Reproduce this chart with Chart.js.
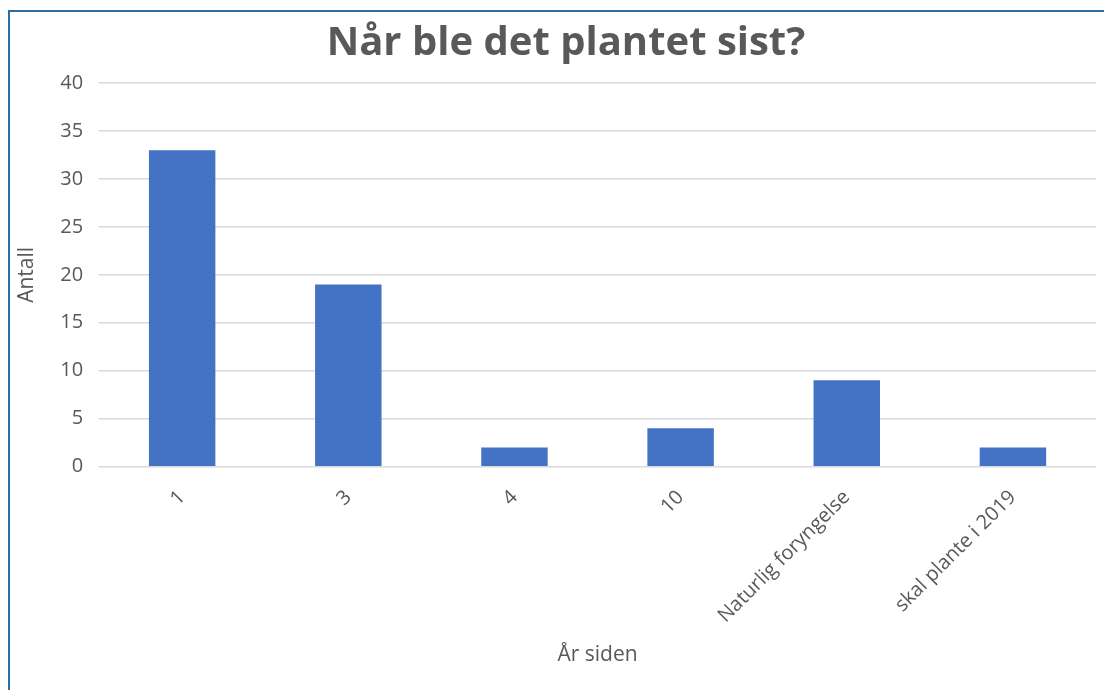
<!DOCTYPE html>
<html>
<head>
<meta charset="utf-8">
<script src="https://cdn.jsdelivr.net/npm/chart.js@4.4.1/dist/chart.umd.min.js"></script>
<style>
  html, body { margin: 0; padding: 0; background: #fff; overflow: hidden; }
  #frame {
    position: absolute; left: 8px; top: 10px; width: 1096px; height: 680px;
    border-top: 2px solid #2d6da6; border-left: 2px solid #2d6da6;
    background: #fff;
  }
  #wrap { position: absolute; left: 0; top: 0; width: 1094px; height: 678px; }
  #title {
    position: absolute; left: 556px; top: 8px; transform: translateX(-50%);
    white-space: nowrap; font: bold 40px/40px 'Open Sans', 'Noto Sans', sans-serif;
    color: #595959;
  }
</style>
</head>
<body>
<div id="frame">
  <div id="wrap"><canvas id="plantChart"></canvas></div>
  <div id="title">Når ble det plantet sist?</div>
</div>
<script>
const categories = ['1', '3', '4', '10', 'Naturlig foryngelse', 'skal plante i 2019'];
const counts = [33, 19, 2, 4, 9, 2];
const yTicks = [0, 5, 10, 15, 20, 25, 30, 35, 40];

const textColor = '#595959';
const fontFamily = "'Open Sans', 'Noto Sans', sans-serif";

new Chart(document.getElementById('plantChart').getContext('2d'), {
  type: 'bar',
  data: {
    labels: categories,
    datasets: [{
      label: 'Antall',
      data: counts,
      backgroundColor: '#4472c4',
      borderWidth: 0,
      barPercentage: 0.4,
      categoryPercentage: 1
    }]
  },
  options: {
    responsive: true,
    maintainAspectRatio: false,
    animation: false,
    layout: { padding: { left: 4, right: 8, top: 71, bottom: 22 } },
    plugins: {
      legend: { display: false },
      tooltip: { enabled: false },
      title: { display: false }
    },
    scales: {
      x: {
        grid: { display: false },
        border: { display: false },
        ticks: {
          color: textColor,
          font: { family: fontFamily, size: 20 },
          minRotation: 45,
          maxRotation: 45,
          padding: 11
        },
        title: {
          display: true,
          text: 'År siden',
          color: textColor,
          font: { family: fontFamily, size: 21 },
          padding: { top: 4, bottom: 0 }
        }
      },
      y: {
        min: yTicks[0],
        max: yTicks[yTicks.length - 1],
        afterBuildTicks: axis => { axis.ticks = yTicks.map(v => ({ value: v })); },
        grid: { color: '#d9d9d9', lineWidth: 1.5, drawTicks: false },
        border: { display: false },
        ticks: {
          color: textColor,
          font: { family: fontFamily, size: 20 },
          padding: 16
        },
        title: {
          display: true,
          text: 'Antall',
          color: textColor,
          font: { family: fontFamily, size: 21 },
          padding: { top: 0, bottom: 5 }
        }
      }
    }
  }
});
</script>
</body>
</html>
